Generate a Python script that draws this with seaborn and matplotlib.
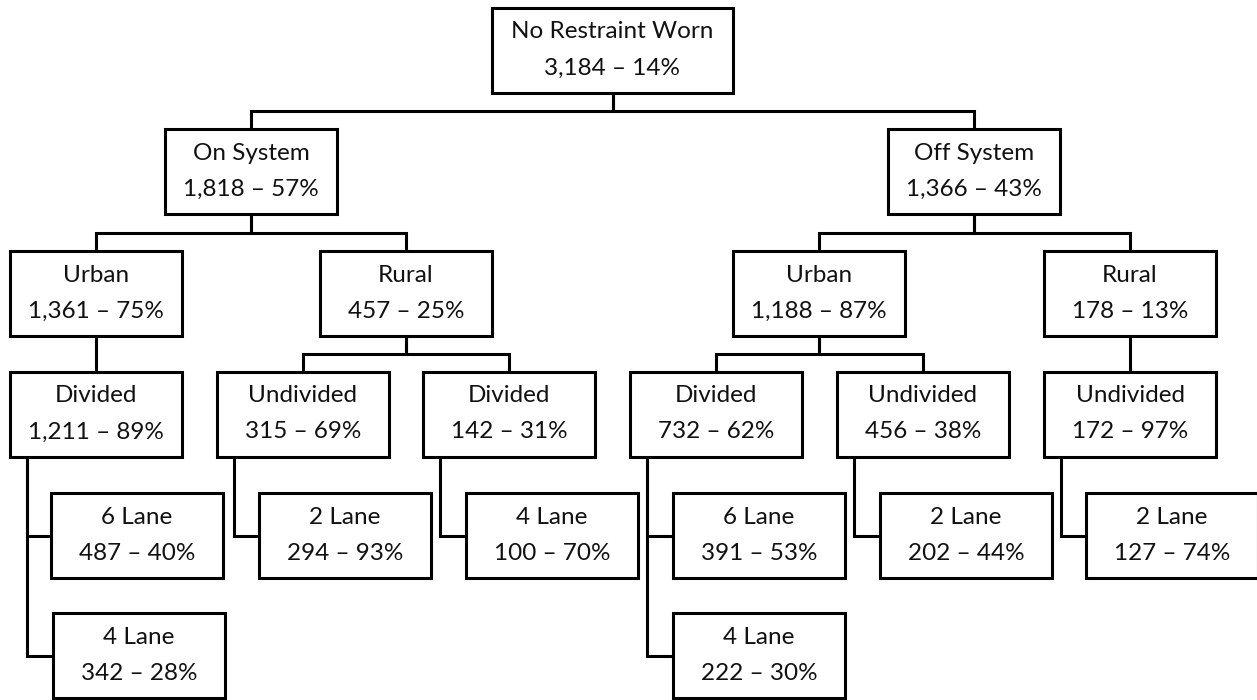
import matplotlib
matplotlib.use("Agg")
import matplotlib.pyplot as plt
from matplotlib.patches import Rectangle
import seaborn as sns

# tree data
labels = ["No Restraint Worn", "On System", "Off System",
          "Urban", "Rural", "Urban", "Rural",
          "Divided", "Undivided", "Divided", "Divided", "Undivided", "Undivided",
          "6 Lane", "4 Lane", "2 Lane", "4 Lane", "6 Lane", "4 Lane", "2 Lane", "2 Lane"]
counts = [3184, 1818, 1366,
          1361, 457, 1188, 178,
          1211, 315, 142, 732, 456, 172,
          487, 342, 294, 100, 391, 222, 202, 127]
pcts = [14, 57, 43,
        75, 25, 87, 13,
        89, 69, 31, 62, 38, 97,
        40, 28, 93, 70, 53, 30, 44, 74]
parents = [None, 0, 0,
           1, 1, 2, 2,
           3, 4, 4, 5, 5, 6,
           7, 7, 8, 9, 10, 10, 11, 12]

# layout (pixel space, top-left of each box)
box_left = [492, 165, 888,
            10, 320, 733, 1044,
            10, 217, 423, 630, 837, 1044,
            51, 53, 259, 466, 673, 673, 880, 1086]
box_top = [8, 129, 129,
           251, 251, 251, 251,
           372, 372, 372, 372, 372, 372,
           493, 613, 493, 493, 493, 613, 493, 493]
box_w = [241] + [172] * 20
box_h = 85
lw = 2.2
side_level = set(range(13, 21))   # lane boxes hang off the side of their parent

sns.set_theme(style="white")
plt.rcParams["font.family"] = ["Lato", "DejaVu Sans"]

fig = plt.figure(figsize=(12.57, 7.0), dpi=100)
ax = fig.add_axes([0, 0, 1, 1])
ax.set_xlim(0, 1257)
ax.set_ylim(700, 0)
ax.axis("off")

# connectors
for i, p in enumerate(parents):
    if p is None:
        continue
    pb = box_top[p] + box_h
    if i in side_level:
        xv = box_left[p] + 17
        ym = box_top[i] + box_h / 2
        ax.plot([xv, xv, box_left[i]], [pb, ym, ym], color="black", lw=lw,
                solid_joinstyle="miter", zorder=1)
    else:
        pc = box_left[p] + box_w[p] / 2
        cc = box_left[i] + box_w[i] / 2
        ym = (pb + box_top[i]) / 2
        ax.plot([pc, pc, cc, cc], [pb, ym, ym, box_top[i]], color="black", lw=lw,
                solid_joinstyle="miter", zorder=1)

# boxes and text
for i, lab in enumerate(labels):
    x0, y0, w = box_left[i], box_top[i], box_w[i]
    ax.add_patch(Rectangle((x0, y0), w, box_h, facecolor="white",
                           edgecolor="black", lw=lw, zorder=2))
    cx = x0 + w / 2
    ax.text(cx, y0 + 24, lab, ha="center", va="center", fontsize=17.5,
            color="#111111", zorder=3)
    ax.text(cx, y0 + 60, f"{counts[i]:,} – {pcts[i]}%", ha="center", va="center",
            fontsize=17.5, color="#111111", zorder=3)

fig.savefig("out.png", dpi=100, facecolor="white")
